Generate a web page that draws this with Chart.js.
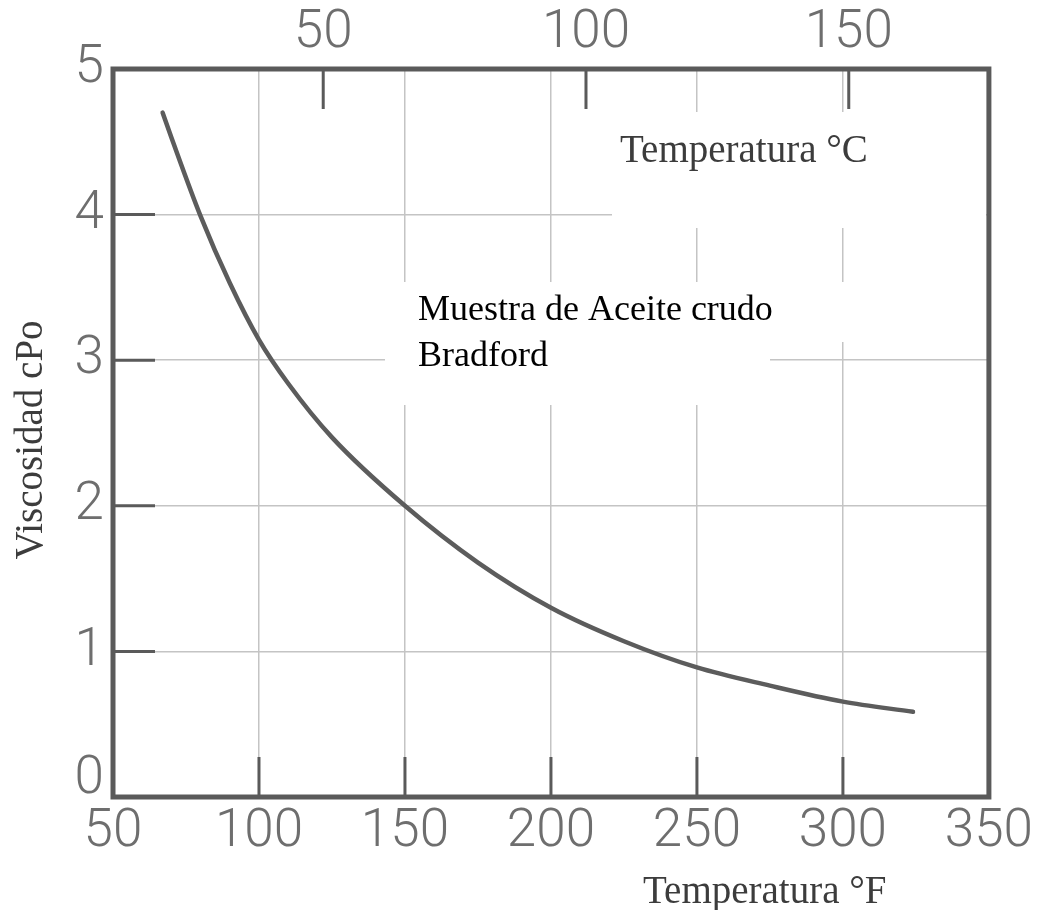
<!DOCTYPE html>
<html><head><meta charset="utf-8">
<script src="https://cdn.jsdelivr.net/npm/chart.js@4/dist/chart.umd.min.js"></script>
<style>html,body{margin:0;padding:0;background:#fff;overflow:hidden}</style>
</head><body>
<canvas id="c" width="1037" height="910"></canvas>
<script>
// ---- data ----
const tempF     = [67, 70, 80, 90, 100, 110, 125, 150, 175, 200, 225, 250, 275, 300, 324];
const viscosity = [4.70, 4.53, 3.99, 3.53, 3.14, 2.84, 2.47, 2.00, 1.61, 1.30, 1.07, 0.89, 0.765, 0.655, 0.585];
const fTicks = [50, 100, 150, 200, 250, 300, 350];
const cTicks = [50, 100, 150];
const vTicks = [0, 1, 2, 3, 4, 5];
const xTitle = 'Temperatura °F';
const cTitle = 'Temperatura °C';
const yTitle = 'Viscosidad cPo';
const noteLines = ['Muestra de Aceite crudo', 'Bradford'];

const toC = f => (f - 32) / 1.8;
const tickFont = {family: 'Roboto', size: 53, weight: '300'};
const tickColor = '#6e6e6e';
const frameColor = '#5a5a5a';
const gridColor = '#c4c4c4';

const deco = {
  id: 'deco',
  beforeDatasetsDraw(chart) {
    const {ctx, chartArea: a, scales} = chart;
    ctx.save();
    // white patches where text was pasted over the grid
    ctx.fillStyle = '#fff';
    [[612, 112, 986, 228], [385, 282, 986, 342], [385, 342, 770, 405]]
      .forEach(([x0, y0, x1, y1]) => ctx.fillRect(x0, y0, x1 - x0, y1 - y0));
    // inward tick marks
    ctx.strokeStyle = frameColor; ctx.lineWidth = 3; ctx.beginPath();
    fTicks.filter(v => v > 50 && v < 350).forEach(v => {
      const px = scales.x.getPixelForValue(v); ctx.moveTo(px, a.bottom); ctx.lineTo(px, a.bottom - 40);
    });
    cTicks.forEach(v => {
      const px = scales.xC.getPixelForValue(v); ctx.moveTo(px, a.top); ctx.lineTo(px, a.top + 40);
    });
    vTicks.filter(v => v > 0 && v < 5).forEach(v => {
      const py = scales.y.getPixelForValue(v); ctx.moveTo(a.left, py); ctx.lineTo(a.left + 42, py);
    });
    ctx.stroke();
    // frame
    ctx.lineWidth = 5; ctx.strokeStyle = frameColor;
    ctx.strokeRect(a.left, a.top, a.right - a.left, a.bottom - a.top);
    ctx.restore();
  },
  afterDraw(chart) {
    const {ctx, chartArea: a} = chart;
    ctx.save();
    // the "0" label sits a bit above the corner
    ctx.font = '300 53px Roboto'; ctx.fillStyle = tickColor;
    ctx.textAlign = 'right'; ctx.textBaseline = 'middle';
    ctx.fillText(String(vTicks[0]), a.left - 9, a.bottom - 17);
    // titles
    ctx.textAlign = 'left'; ctx.textBaseline = 'alphabetic';
    ctx.fillStyle = '#3c3c3c';
    ctx.font = '39px "Liberation Serif"';
    ctx.fillText(cTitle, 620, 162);
    ctx.fillText(xTitle, 643, 903);
    ctx.save();
    ctx.translate(42, 440); ctx.rotate(-Math.PI / 2);
    ctx.textAlign = 'center';
    ctx.fillText(yTitle, 0, 0);
    ctx.restore();
    ctx.fillStyle = '#000';
    ctx.font = '36px "Liberation Serif"';
    ctx.fillText(noteLines[0], 418, 320);
    ctx.fillText(noteLines[1], 418, 366);
    ctx.restore();
  }
};

new Chart(document.getElementById('c'), {
  type: 'scatter',
  data: {
    datasets: [{
      data: tempF.map((f, i) => ({x: f, y: viscosity[i]})),
      xAxisID: 'x', yAxisID: 'y',
      showLine: true, fill: false,
      borderColor: '#5c5c5c', borderWidth: 4.5,
      pointRadius: 0, cubicInterpolationMode: 'monotone', borderCapStyle: 'round'
    }]
  },
  options: {
    responsive: false, animation: false, devicePixelRatio: 1,
    layout: {padding: 0},
    plugins: {legend: {display: false}, tooltip: {enabled: false}},
    scales: {
      x: {
        type: 'linear', position: 'bottom', min: 50, max: 350,
        afterBuildTicks: s => { s.ticks = fTicks.map(v => ({value: v})); },
        ticks: {font: tickFont, color: tickColor, padding: 4, maxRotation: 0, autoSkip: false},
        grid: {color: gridColor, lineWidth: 1.5, drawTicks: false},
        border: {display: false},
        afterFit: s => { s.height = 113; }
      },
      xC: {
        type: 'linear', position: 'top', min: toC(50), max: toC(350),
        afterBuildTicks: s => { s.ticks = cTicks.map(v => ({value: v})); },
        ticks: {font: tickFont, color: tickColor, padding: 3, maxRotation: 0, autoSkip: false},
        grid: {display: false, drawTicks: false},
        border: {display: false},
        afterFit: s => { s.height = 69; }
      },
      y: {
        type: 'linear', position: 'left', min: 0, max: 5,
        afterBuildTicks: s => { s.ticks = vTicks.map(v => ({value: v})); },
        ticks: {font: tickFont, color: tickColor, padding: 9,
                callback: v => (v === 0 ? '' : String(v))},
        grid: {color: gridColor, lineWidth: 1.5, drawTicks: false},
        border: {display: false},
        afterFit: s => { s.width = 113; }
      },
      yR: {
        type: 'linear', position: 'right', min: 0, max: 5,
        ticks: {display: false},
        grid: {display: false, drawTicks: false},
        border: {display: false},
        afterFit: s => { s.width = 40; }
      }
    }
  },
  plugins: [deco]
});
</script>
</body></html>
